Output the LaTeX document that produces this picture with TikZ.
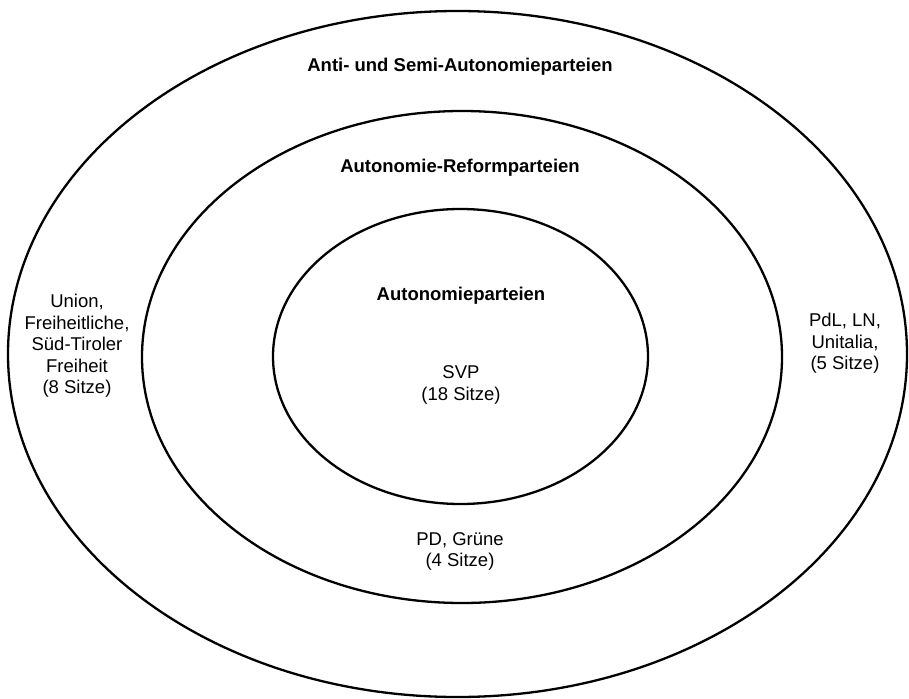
\documentclass[tikz,border=0pt]{standalone}
\usepackage{fontspec}
\setmainfont{Liberation Sans}
\usepackage{tikz}

\begin{document}
\begin{tikzpicture}[x=1pt,y=-1pt,
  ring/.style={line width=2.3pt,black},
  partei/.style={font=\fontsize{18.5}{21.5}\selectfont,align=center,inner sep=0pt},
  gruppe/.style={font=\fontsize{18.5}{21.5}\selectfont\bfseries,inner sep=0pt}]
\useasboundingbox (0,0) rectangle (909,698);

% the three rings
\draw[ring] (457.5,354) ellipse (449.5 and 343);
\draw[ring] (462,357) ellipse (320 and 246);
\draw[ring] (460.5,356.5) ellipse (187.5 and 147.5);

% group titles
\node[gruppe] (anti) at (460,67) {Anti- und Semi-Autonomieparteien};
\node[gruppe] (reform) at (460,168) {Autonomie-Reformparteien};
\node[gruppe] (auto) at (461,296) {Autonomieparteien};

% parties and seats
\node[partei] (svp) at (461,385) {SVP\\(18 Sitze)};
\node[partei] (pd) at (460,551.5) {PD, Grüne\\(4 Sitze)};
\node[partei] (union) at (77,346) {Union,\\Freiheitliche,\\Süd-Tiroler\\Freiheit\\(8 Sitze)};
\node[partei] (pdl) at (845,343.5) {PdL, LN,\\Unitalia,\\(5 Sitze)};
\end{tikzpicture}
\end{document}
